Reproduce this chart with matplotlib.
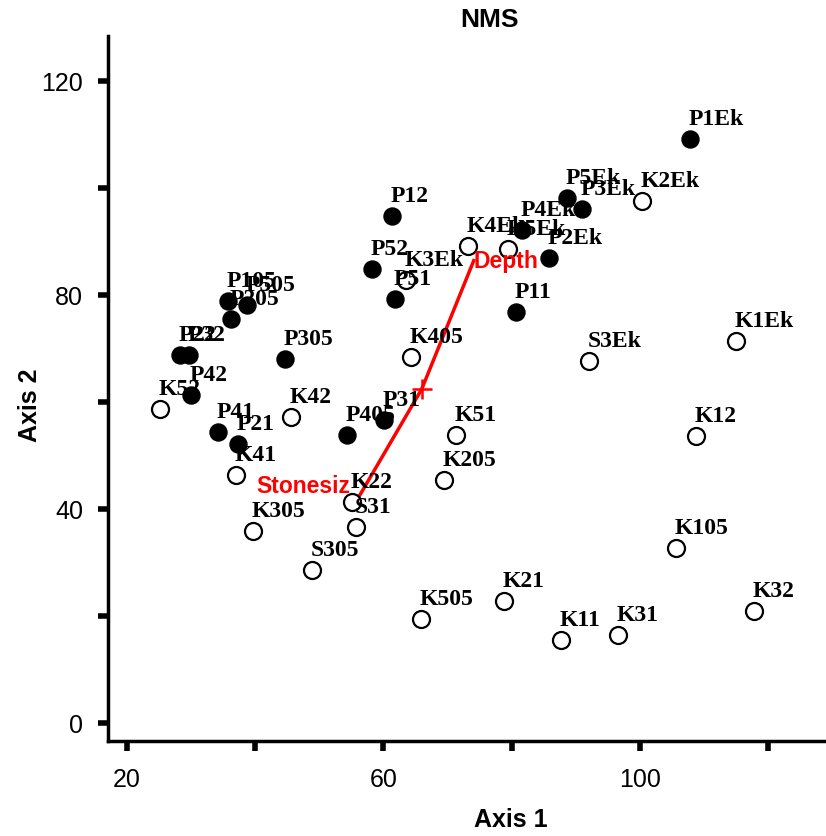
import matplotlib
matplotlib.use("Agg")
import matplotlib.pyplot as plt

# filled sites (P)
p_names = ["P1Ek", "P5Ek", "P3Ek", "P4Ek", "P2Ek", "P11", "P12", "P52", "P51",
           "P105", "P505", "P205", "P22", "P32", "P42", "P305", "P41", "P21",
           "P405", "P31"]
p_x = [107.8, 88.6, 91.0, 81.6, 85.8, 80.7, 61.4, 58.3, 61.8,
       35.8, 38.8, 36.3, 28.3, 29.7, 30.1, 44.7, 34.3, 37.4,
       54.4, 60.1]
p_y = [109.2, 98.1, 96.1, 92.1, 86.9, 76.8, 94.8, 84.9, 79.3,
       78.9, 78.1, 75.5, 68.8, 68.8, 61.3, 68.0, 54.4, 52.1,
       53.8, 56.6]

# open sites (K, S)
k_names = ["K2Ek", "K4Ek", "K5Ek", "K3Ek", "K405", "S3Ek", "K1Ek", "K52", "K42",
           "K51", "K12", "K41", "K205", "K22", "S31", "K305", "S305", "K105",
           "K21", "K505", "K32", "K11", "K31"]
k_x = [100.3, 73.2, 79.4, 63.6, 64.3, 92.1, 115.0, 25.2, 45.6,
       71.3, 108.7, 37.1, 69.5, 55.1, 55.8, 39.7, 48.9, 105.6,
       78.8, 65.9, 117.8, 87.7, 96.6]
k_y = [97.6, 89.2, 88.6, 82.8, 68.4, 67.7, 71.4, 58.7, 57.2,
       53.8, 53.6, 46.4, 45.4, 41.3, 36.6, 35.9, 28.6, 32.7,
       22.8, 19.4, 20.9, 15.5, 16.4]

# biplot vectors
centre = (66.0, 62.4)
vec_names = ["Depth", "Stonesiz"]
vec_x = [74.1, 55.1]
vec_y = [86.4, 40.0]

fig = plt.figure(figsize=(8.26, 8.37), dpi=100)
ax = fig.add_axes([108 / 826, 95 / 837, 1 - 108 / 826, 705 / 837])

ax.scatter(p_x, p_y, s=150, c="black", edgecolors="black", zorder=3)
ax.scatter(k_x, k_y, s=150, facecolors="white", edgecolors="black", linewidths=1.6, zorder=3)

lab_font = dict(family="Liberation Serif", fontweight="bold", fontsize=17)
for n, x, y in zip(p_names + k_names, p_x + k_x, p_y + k_y):
    ax.annotate(n, (x, y), xytext=(-1, 7), textcoords="offset points",
                ha="left", va="bottom", zorder=4, **lab_font)

for n, x, y in zip(vec_names, vec_x, vec_y):
    ax.plot([centre[0], x], [centre[1], y], color="red", lw=2.5, zorder=2)
ax.plot(centre[0], centre[1], marker="+", color="red", ms=14, mew=1.8, zorder=2)
ax.text(vec_x[0], vec_y[0], vec_names[0], color="red", fontweight="bold",
        family="Liberation Sans", fontsize=16.5, ha="left", va="center")
ax.text(vec_x[1] - 0.2, vec_y[1] + 4.3, vec_names[1], color="red", fontweight="bold",
        family="Liberation Sans", fontsize=16.5, ha="right", va="center")

ax.set_xlim(17.1, 129)
ax.set_ylim(-3.4, 128.4)
ax.set_xticks([20, 40, 60, 80, 100, 120])
ax.set_xticklabels(["20", "", "60", "", "100", ""])
ax.set_yticks([0, 20, 40, 60, 80, 100, 120])
ax.set_yticklabels(["0", "", "40", "", "80", "", "120"])
for lbl in ax.get_xticklabels() + ax.get_yticklabels():
    lbl.set_family("Liberation Sans")
    lbl.set_fontsize(18)
ax.tick_params(width=4, length=7)
ax.tick_params(axis="y", pad=11)
ax.tick_params(axis="x", pad=12)

for s in ["top", "right"]:
    ax.spines[s].set_visible(False)
for s in ["left", "bottom"]:
    ax.spines[s].set_linewidth(2.5)

fig.text(511 / 826, 1 - 820 / 837, "Axis 1", family="Liberation Sans", fontweight="bold",
         fontsize=18, ha="center", va="center")
fig.text(30 / 826, 1 - 405 / 837, "Axis 2", family="Liberation Sans", fontweight="bold",
         fontsize=18, ha="center", va="center", rotation=90)
fig.text(490 / 826, 1 - 20 / 837, "NMS", family="Liberation Sans", fontweight="bold",
         fontsize=19, ha="center", va="center")

fig.savefig("out.png", dpi=100)
